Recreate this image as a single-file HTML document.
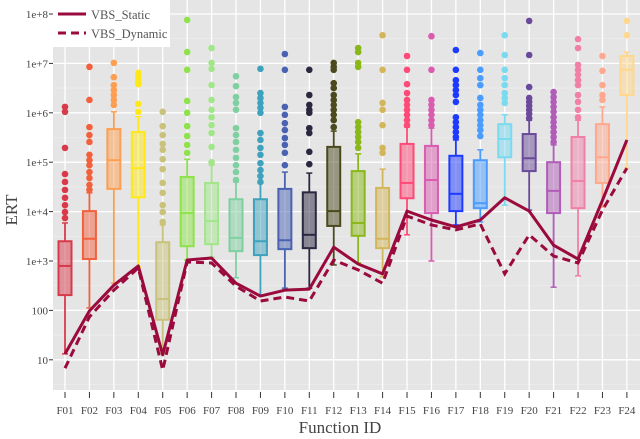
<!DOCTYPE html>
<html><head><meta charset="utf-8"><style>
body{margin:0;background:#fff;}
svg{display:block;font-family:"Liberation Serif",serif;}
</style></head><body>
<svg id="chart" width="640" height="439">
<rect x="53" y="0" width="587" height="390" fill="#e5e5e5"/>
<g id="grid"></g>
<g id="boxes"></g>
<g id="lines"></g>
<g id="axes"></g>
<text x="340" y="433" font-size="17" fill="#444" text-anchor="middle">Function ID</text>
<text x="0" y="0" font-size="17" fill="#444" text-anchor="middle" transform="translate(17,210) rotate(-90)">ERT</text>
<g>
<rect x="53" y="0" width="117" height="47" fill="#fff"/>
<line x1="58" y1="14" x2="86" y2="14" stroke="#9b0a3d" stroke-width="3"/>
<text x="91" y="19" font-size="12.5" fill="#555">VBS_Static</text>
<line x1="58" y1="33" x2="86" y2="33" stroke="#9b0a3d" stroke-width="3" stroke-dasharray="8,5"/>
<text x="91" y="38" font-size="12.5" fill="#555">VBS_Dynamic</text>
</g>
</svg>
<script>
const categories=["F01","F02","F03","F04","F05","F06","F07","F08","F09","F10","F11","F12","F13","F14","F15","F16","F17","F18","F19","F20","F21","F22","F23","F24"];
// log10(ERT) five-number summaries
const whiskerLow=[1.12,2.05,2.55,2.88,1.14,3.02,3.08,2.66,2.31,2.45,2.45,2.92,2.96,2.68,3.53,3.0,3.73,3.79,4.13,4.03,2.47,2.70,4.09,4.88];
const q1=[2.31,3.04,4.46,4.29,1.81,3.30,3.34,3.20,3.12,3.24,3.26,3.71,3.51,3.26,4.27,3.97,4.01,4.07,5.10,4.82,3.97,4.07,4.58,6.36];
const median=[2.90,3.45,5.04,4.88,2.23,3.97,3.81,3.47,3.40,3.42,3.53,4.01,3.77,3.45,4.58,4.64,4.36,4.17,5.47,5.08,4.42,4.62,5.10,6.87];
const q3=[3.40,4.01,5.67,5.61,3.38,4.70,4.58,4.25,4.25,4.46,4.39,5.31,4.82,4.48,5.37,5.33,5.13,5.04,5.77,5.57,5.00,5.51,5.77,7.15];
const whiskerHigh=[3.77,4.38,6.02,5.92,3.73,5.06,4.94,4.60,4.58,4.80,4.78,5.63,5.17,4.86,5.71,5.69,5.45,5.25,5.96,5.85,5.35,5.85,6.12,7.23];
const outliers=[
[6.12,6.02,5.29,4.76,4.60,4.44,4.28,4.13,3.99,3.87],
[6.93,6.26,5.71,5.55,5.41,5.15,5.04,4.94,4.80,4.68,4.54,4.44],
[7.01,6.72,6.56,6.46,6.36,6.26,6.16],
[6.81,6.75,6.68,6.62,6.58,6.18,6.02],
[6.02,5.73,5.55,5.37,5.25,5.06,4.86,4.58,4.38,4.13,3.99,3.79],
[7.88,7.23,6.87,6.24,6.00,5.73,5.53,5.35,5.19],
[7.31,7.01,6.89,6.56,6.26,6.06,5.91,5.75,5.59,5.31,5.00],
[6.74,6.54,6.32,6.20,6.06,5.69,5.55,5.41,5.25,5.09,4.94,4.80,4.64],
[6.89,6.40,6.30,6.20,6.10,6.00,5.59,5.45,5.29,5.15,4.98,4.84,4.72,4.60],
[7.19,6.87,6.12,5.96,5.79,5.65,5.49,5.35,5.19,4.94],
[6.87,6.36,6.16,6.06,6.00,5.69,5.59,5.21,4.96],
[7.01,6.93,6.87,6.60,6.50,6.36,6.26,6.16,6.06,5.96,5.85,5.71],
[7.31,7.23,7.01,6.93,5.81,5.71,5.61,5.51,5.41,5.29],
[7.57,6.87,6.20,6.06,5.75,5.29,5.19],
[7.15,6.87,6.58,6.40,6.26,6.16,6.06,5.96,5.85,5.75],
[7.55,6.87,6.26,6.16,6.06,5.96,5.85,5.75],
[7.27,6.87,6.66,6.56,6.46,6.36,6.22,5.91,5.81,5.71,5.61,5.51],
[7.21,6.87,6.70,6.56,6.30,6.16,6.06,5.96,5.85,5.75,5.65,5.53],
[7.57,7.17,6.87,6.70,6.56,6.40,6.30,6.20],
[7.86,7.17,6.52,6.30,6.22,6.14,6.06,5.98,5.89],
[6.42,6.32,6.22,6.12,6.02,5.91,5.81,5.71,5.61,5.51,5.41],
[7.49,7.31,6.97,6.87,6.77,6.66,6.56,6.36,6.22,6.06,5.91],
[7.15,6.85,6.56,6.36,6.26],
[7.86,7.57]];
const vbsStatic=[1.12,1.99,2.51,2.90,1.10,3.02,3.06,2.55,2.29,2.41,2.43,3.28,2.94,2.74,4.01,3.83,3.69,3.83,4.28,4.01,3.32,3.04,4.23,5.45];
const vbsDynamic=[0.83,1.87,2.41,2.86,0.79,2.98,2.96,2.49,2.19,2.27,2.19,3.02,2.82,2.55,3.91,3.73,3.63,3.75,2.74,3.53,3.10,2.96,4.03,4.88];
const yTickValues=[1,2,3,4,5,6,7,8];
const yTickLabels=["10","100","1e+3","1e+4","1e+5","1e+6","1e+7","1e+8"];
const colors=["#d83a4a","#f2603c","#fd9e50","#ffe81a","#c9c27a","#8ee24a","#a2e68a","#7fd0a0","#3fa2bd","#4a62b2","#2a2840","#4a4a1e","#8ab81a","#d4b65a","#ff4a78","#d95cb0","#1e3aff","#4a9cff","#7adaf0","#6a4a9a","#b05cb8","#f080a8","#ffa88e","#ffd88e"];

const NS="http://www.w3.org/2000/svg";
const yS=v=>14+(8-v)*49.4;
const xS=i=>65+i*24.43;
function mk(tag,attrs,parent){const e=document.createElementNS(NS,tag);for(const k in attrs)e.setAttribute(k,attrs[k]);parent.appendChild(e);return e;}
const grid=document.getElementById('grid'),boxes=document.getElementById('boxes'),lines=document.getElementById('lines'),axes=document.getElementById('axes');
yTickValues.forEach((v,i)=>{
  const g=mk('line',{x1:53,x2:640,y1:yS(v),y2:yS(v),stroke:'#fff','stroke-width':1.3},grid);
  
  
  const m=mk('line',{x1:53,x2:640,y1:yS(v)+24.7,y2:yS(v)+24.7,stroke:'#efefef','stroke-width':0.6},grid);
  
  
  const tk=mk('line',{x1:49,x2:53,y1:yS(v),y2:yS(v),stroke:'#333','stroke-width':1},axes);
  
  
  const t=mk('text',{x:48,y:yS(v)+4,'font-size':11,fill:'#444','text-anchor':'end'},axes);
  t.textContent=yTickLabels[i];
  
  
});
categories.forEach((c,i)=>{
  const x=xS(i);
  const g=mk('line',{x1:x,x2:x,y1:0,y2:390,stroke:'#fff','stroke-width':1.3},grid);
  
  
  const tk=mk('line',{x1:x,x2:x,y1:392,y2:398,stroke:'#333','stroke-width':1},axes);
  
  
  const t=mk('text',{x:x,y:414,'font-size':11,fill:'#444','text-anchor':'middle'},axes);
  t.textContent=c;
  
  
  const col=colors[i];
  const grp=mk('g',{},boxes);
  
  
  mk('line',{x1:x,x2:x,y1:yS(whiskerLow[i]),y2:yS(q1[i]),stroke:col,'stroke-width':1.8},grp);
  mk('line',{x1:x,x2:x,y1:yS(q3[i]),y2:yS(whiskerHigh[i]),stroke:col,'stroke-width':1.8},grp);
  mk('line',{x1:x-3,x2:x+3,y1:yS(whiskerLow[i]),y2:yS(whiskerLow[i]),stroke:col,'stroke-width':1.5},grp);
  mk('line',{x1:x-3,x2:x+3,y1:yS(whiskerHigh[i]),y2:yS(whiskerHigh[i]),stroke:col,'stroke-width':1.5},grp);
  mk('rect',{x:x-6.5,y:yS(q3[i]),width:13,height:yS(q1[i])-yS(q3[i]),fill:col,'fill-opacity':0.5,stroke:col,'stroke-width':2},grp);
  mk('line',{x1:x-6.5,x2:x+6.5,y1:yS(median[i]),y2:yS(median[i]),stroke:col,'stroke-width':2},grp);
  outliers[i].forEach(o=>{mk('circle',{cx:x,cy:yS(o),r:3.3,fill:col},grp);});
});
function path(arr){return arr.map((v,i)=>(i?'L':'M')+xS(i)+','+yS(v)).join(' ');}
const ls=mk('path',{d:path(vbsStatic),fill:'none',stroke:'#9b0a3d','stroke-width':3,'stroke-linejoin':'round'},lines);


const ld=mk('path',{d:path(vbsDynamic),fill:'none',stroke:'#9b0a3d','stroke-width':3,'stroke-dasharray':'8,5'},lines);


</script>
</body></html>
